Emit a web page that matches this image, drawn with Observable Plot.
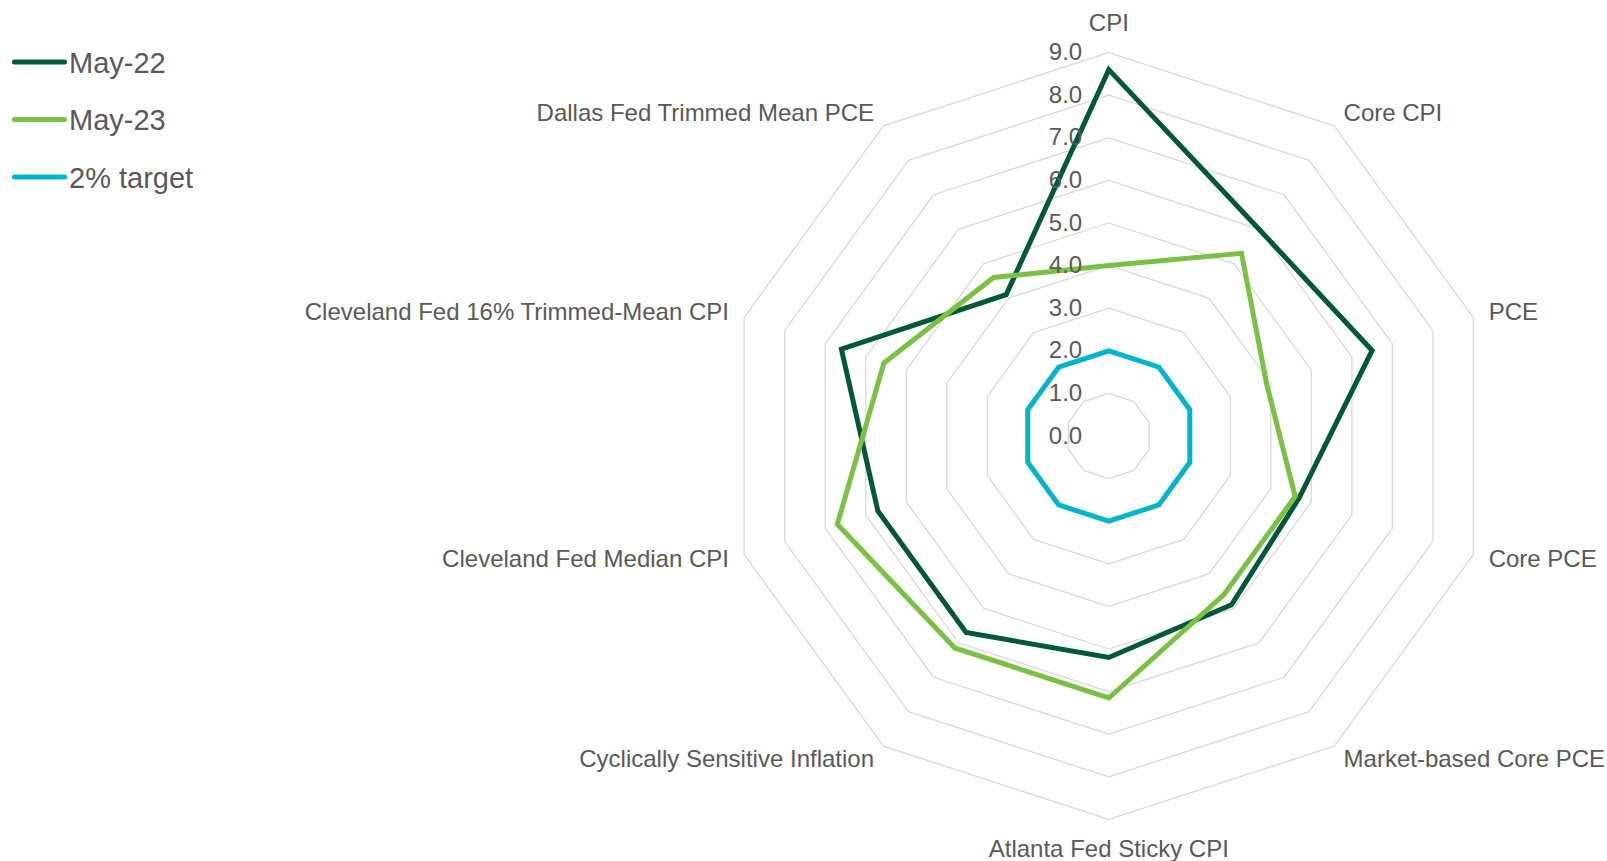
<!DOCTYPE html>
<html><head><meta charset="utf-8">
<script src="https://cdn.jsdelivr.net/npm/d3@7"></script>
<script src="https://cdn.jsdelivr.net/npm/@observablehq/plot@0.6"></script>
<style>
body{margin:0;background:#fff;font-family:"Liberation Sans",Arial,sans-serif;}
#wrap{position:relative;width:1607px;height:861px;overflow:hidden;}
#legend{position:absolute;left:0;top:0;}
</style></head><body>
<div id="wrap"><div id="chart"></div><svg id="legend" width="230" height="210"></svg></div>
<script>
// ---- data ----
const categories = ["CPI","Core CPI","PCE","Core PCE","Market-based Core PCE","Atlanta Fed Sticky CPI","Cyclically Sensitive Inflation","Cleveland Fed Median CPI","Cleveland Fed 16% Trimmed-Mean CPI","Dallas Fed Trimmed Mean PCE"];
const may22 = [8.6, 6.0, 6.5, 4.7, 4.9, 5.2, 5.7, 5.7, 6.6, 4.1];
const may23 = [4.0, 5.3, 3.9, 4.6, 4.6, 6.15, 6.15, 6.7, 5.55, 4.6];
const target = [2, 2, 2, 2, 2, 2, 2, 2, 2, 2];
const ringValues = [1, 2, 3, 4, 5, 6, 7, 8, 9];
const tickValues = [0, 1, 2, 3, 4, 5, 6, 7, 8, 9];
const tickLabels = ["0.0","1.0","2.0","3.0","4.0","5.0","6.0","7.0","8.0","9.0"];
const seriesNames = ["May-22", "May-23", "2% target"];
const seriesColors = ["#00573a", "#7ac143", "#00b4cc"];
const seriesValues = [may22, may23, target];

// ---- layout ----
const W = 1607, H = 861, cx = 1108.3, cy = 435.5, k = 42.6;
const n = categories.length;
const ang = i => i * 2 * Math.PI / n;
const px = (v, i) => v * Math.sin(ang(i));
const py = (v, i) => v * Math.cos(ang(i));

const ringData = [];
for (const r of ringValues) for (let i = 0; i < n; i++) ringData.push({ring: r, x: px(r, i), y: py(r, i)});

const seriesData = [];
seriesNames.forEach((s, j) => seriesValues[j].forEach((v, i) => seriesData.push({series: s, x: px(v, i), y: py(v, i)})));

const maxR = d3.max(ringValues);
const labelData = categories.map((c, i) => {
  const a = ang(i);
  const s = Math.sin(a), co = Math.cos(a);
  const anchor = Math.abs(s) < 1e-6 ? "middle" : (s > 0 ? "start" : "end");
  const R = maxR + 16 / k;
  const extra = anchor === "middle" ? Math.sign(co) * 13.5 / k : 0;
  return {label: c, anchor, x: R * s, y: R * co + extra};
});

const tickData = tickValues.map((v, i) => ({v, label: tickLabels[i]}));

const textFont = {fontFamily: "Liberation Sans, Arial, sans-serif", fontSize: 24, fill: "#595959"};

const chart = Plot.plot({
  width: W, height: H,
  margin: 0,
  x: {domain: [-cx / k, (W - cx) / k], range: [0, W], axis: null},
  y: {domain: [-(H - cy) / k, cy / k], range: [H, 0], axis: null},
  color: {domain: seriesNames, range: seriesColors},
  style: {background: "#fff", overflow: "visible"},
  marks: [
    Plot.line(ringData, {x: "x", y: "y", z: "ring", curve: "linear-closed", stroke: "#d9d9d9", strokeWidth: 1.3}),
    Plot.line(seriesData, {x: "x", y: "y", z: "series", curve: "linear-closed", stroke: "series", strokeWidth: 5, strokeLinejoin: "miter", strokeMiterlimit: 10}),
    Plot.text(tickData, {x: 0, y: "v", text: "label", textAnchor: "end", dx: -26.6, ...textFont}),
    ...["start", "middle", "end"].map(a => Plot.text(labelData.filter(d => d.anchor === a), {x: "x", y: "y", text: "label", textAnchor: a, ...textFont}))
  ]
});
document.getElementById("chart").appendChild(chart);

// ---- legend ----
const leg = d3.select("#legend");
const rowY = [62, 119.5, 177];
seriesNames.forEach((s, i) => {
  leg.append("line").attr("x1", 14.5).attr("x2", 64.5).attr("y1", rowY[i]).attr("y2", rowY[i])
    .attr("stroke", seriesColors[i]).attr("stroke-width", 5).attr("stroke-linecap", "round");
  leg.append("text").attr("x", 69).attr("y", rowY[i] + 10.5).text(s)
    .attr("font-family", "Liberation Sans, Arial, sans-serif").attr("font-size", 29).attr("fill", "#595959");
});
</script>
</body></html>
